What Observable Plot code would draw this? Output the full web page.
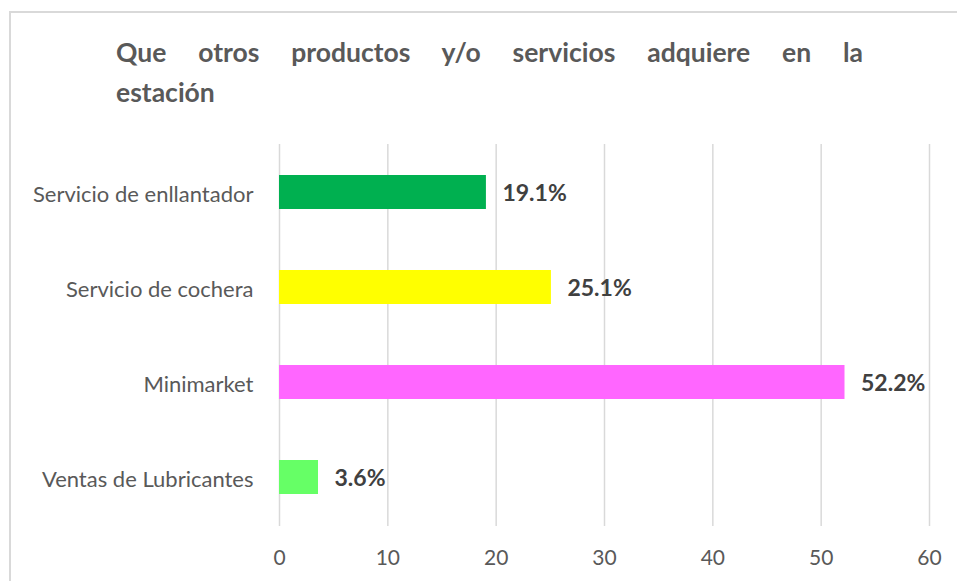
<!DOCTYPE html>
<html>
<head>
<meta charset="utf-8">
<script src="https://cdn.jsdelivr.net/npm/d3@7"></script>
<script src="https://cdn.jsdelivr.net/npm/@observablehq/plot@0.6"></script>
<style>
  html, body { margin: 0; padding: 0; background: #fff; }
  #wrap { position: relative; width: 957px; height: 581px; overflow: hidden; font-family: Lato, "Open Sans", sans-serif; }
  #frame { position: absolute; left: 9px; top: 11px; width: 1200px; height: 900px;
           border-left: 2px solid #d9d9d9; border-top: 2px solid #d9d9d9; box-sizing: border-box; }
  #title { position: absolute; left: 116px; top: 32px; width: 747px; color: #595959;
           font-weight: bold; font-size: 26.5px; line-height: 40px; }
  #title .l1 { text-align: justify; text-align-last: justify; }
  #chart { position: absolute; left: 0; top: 0; }
</style>
</head>
<body>
<div id="wrap">
  <div id="frame"></div>
  <div id="title"><div class="l1">Que otros productos y/o servicios adquiere en la</div><div>estación</div></div>
  <div id="chart"></div>
</div>
<script>
const categories = ["Servicio de enllantador", "Servicio de cochera", "Minimarket", "Ventas de Lubricantes"];
const values = [19.1, 25.1, 52.2, 3.6];
const colors = ["#00B050", "#FFFF00", "#FF66FF", "#66FF66"];
const xTicks = [0, 10, 20, 30, 40, 50, 60];

const data = categories.map((c, i) => ({category: c, value: values[i], color: colors[i]}));

const chart = Plot.plot({
  width: 957,
  height: 581,
  marginTop: 144,
  marginBottom: 55,
  marginLeft: 279,
  marginRight: 28,
  style: {fontFamily: "Lato, 'Open Sans', sans-serif", background: "transparent"},
  x: {domain: [0, 60], ticks: xTicks},
  y: {domain: categories, paddingInner: 0.64, paddingOuter: 0.32},
  marks: [
    Plot.ruleX(xTicks, {stroke: "#d9d9d9", strokeWidth: 1.5}),
    Plot.barX(data, {x: "value", y: "category", fill: "color"}),
    Plot.text(data, {x: "value", y: "category", text: d => d.value.toFixed(1) + "%",
      textAnchor: "start", dx: 16, dy: 1, fontWeight: "bold", fontSize: 23, fill: "#404040"}),
    Plot.axisX({ticks: xTicks, tickSize: 0, tickPadding: 24, fontSize: 21, color: "#595959", label: null}),
    Plot.axisY({tickSize: 0, tickPadding: 26, fontSize: 22, color: "#595959", label: null, dy: 2})
  ]
});
document.getElementById("chart").appendChild(chart);
</script>
</body>
</html>
